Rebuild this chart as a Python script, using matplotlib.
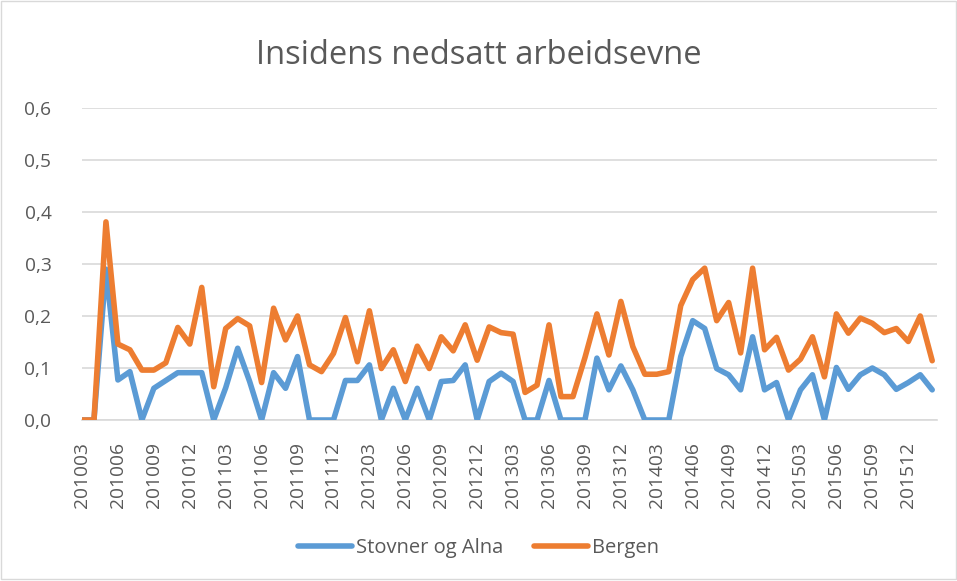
import matplotlib.pyplot as plt
from matplotlib.patches import Rectangle

plt.rcParams['font.family'] = ['Open Sans', 'DejaVu Sans']

# months 201003 .. 201602
months = []
for y in range(2010, 2017):
    for m in range(1, 13):
        ym = y * 100 + m
        if 201003 <= ym <= 201602:
            months.append(str(ym))

stovner = [0.0, 0.0, 0.29, 0.077, 0.093, 0.0, 0.061, 0.076, 0.091, 0.091,
           0.091, 0.0, 0.062, 0.138, 0.074, 0.0, 0.091, 0.061, 0.122, 0.0,
           0.0, 0.0, 0.076, 0.076, 0.106, 0.0, 0.061, 0.0, 0.061, 0.0,
           0.074, 0.076, 0.106, 0.0, 0.074, 0.09, 0.074, 0.0, 0.0, 0.076,
           0.0, 0.0, 0.0, 0.119, 0.058, 0.104, 0.058, 0.0, 0.0, 0.0,
           0.122, 0.191, 0.176, 0.099, 0.087, 0.058, 0.16, 0.058, 0.072, 0.0,
           0.058, 0.087, 0.0, 0.101, 0.059, 0.087, 0.1, 0.087, 0.059, 0.072,
           0.087, 0.058]
bergen = [0.0, 0.0, 0.381, 0.146, 0.135, 0.096, 0.096, 0.110, 0.178, 0.146,
          0.255, 0.064, 0.176, 0.195, 0.181, 0.072, 0.215, 0.154, 0.2, 0.106,
          0.093, 0.128, 0.197, 0.112, 0.21, 0.099, 0.135, 0.074, 0.142, 0.099,
          0.16, 0.133, 0.183, 0.115, 0.179, 0.168, 0.165, 0.053, 0.067, 0.183,
          0.045, 0.045, 0.12, 0.204, 0.125, 0.228, 0.141, 0.088, 0.088, 0.093,
          0.22, 0.27, 0.292, 0.191, 0.226, 0.129, 0.292, 0.135, 0.159, 0.096,
          0.117, 0.16, 0.083, 0.204, 0.167, 0.196, 0.186, 0.168, 0.176, 0.151,
          0.2, 0.114]
yticks = [0.0, 0.1, 0.2, 0.3, 0.4, 0.5, 0.6]

W, H = 957, 581
fig = plt.figure(figsize=(W / 100, H / 100), dpi=100)
ax = fig.add_axes([82 / W, 1 - 420 / H, 855 / W, 312 / H])

x = list(range(len(months)))
ax.plot(x, stovner, color='#5B9BD5', lw=4, solid_joinstyle='round',
        solid_capstyle='round', label='Stovner og Alna')
ax.plot(x, bergen, color='#ED7D31', lw=4, solid_joinstyle='round',
        solid_capstyle='round', label='Bergen')

ax.set_xlim(0, 71.4)
ax.set_ylim(0, 0.6)
ax.set_yticks(yticks)
ax.set_yticklabels([f'{v:.1f}'.replace('.', ',') for v in yticks])
ax.set_xticks(x[::3])
ax.set_xticklabels(months[::3], rotation=90)
ax.tick_params(axis='both', length=0, labelsize=13.8, colors='#595959')
ax.tick_params(axis='x', pad=16)
ax.tick_params(axis='y', pad=22)
ax.grid(axis='y', color='#D9D9D9', lw=1.2)
ax.set_axisbelow(True)
for s in ['top', 'right', 'left']:
    ax.spines[s].set_visible(False)
ax.spines['bottom'].set_color('#D9D9D9')
ax.spines['bottom'].set_linewidth(1.2)
ax.spines['bottom'].set_zorder(0.5)

fig.text(0.5, 1 - 55 / H, 'Insidens nedsatt arbeidsevne', ha='center',
         va='center', fontsize=23.5, color='#595959')

fig.legend(loc='center', bbox_to_anchor=(0.5, 1 - 548 / H), ncol=2,
           frameon=False, fontsize=14.5, handlelength=2.7, handletextpad=0.2,
           columnspacing=1.5, labelcolor='#595959')

fig.patches.append(Rectangle((0.5 / W, 2 / H), 1 - 1.5 / W, 1 - 2.5 / H,
                             transform=fig.transFigure, fill=False,
                             edgecolor='#D9D9D9', lw=1))

fig.savefig('out.png', dpi=100)
